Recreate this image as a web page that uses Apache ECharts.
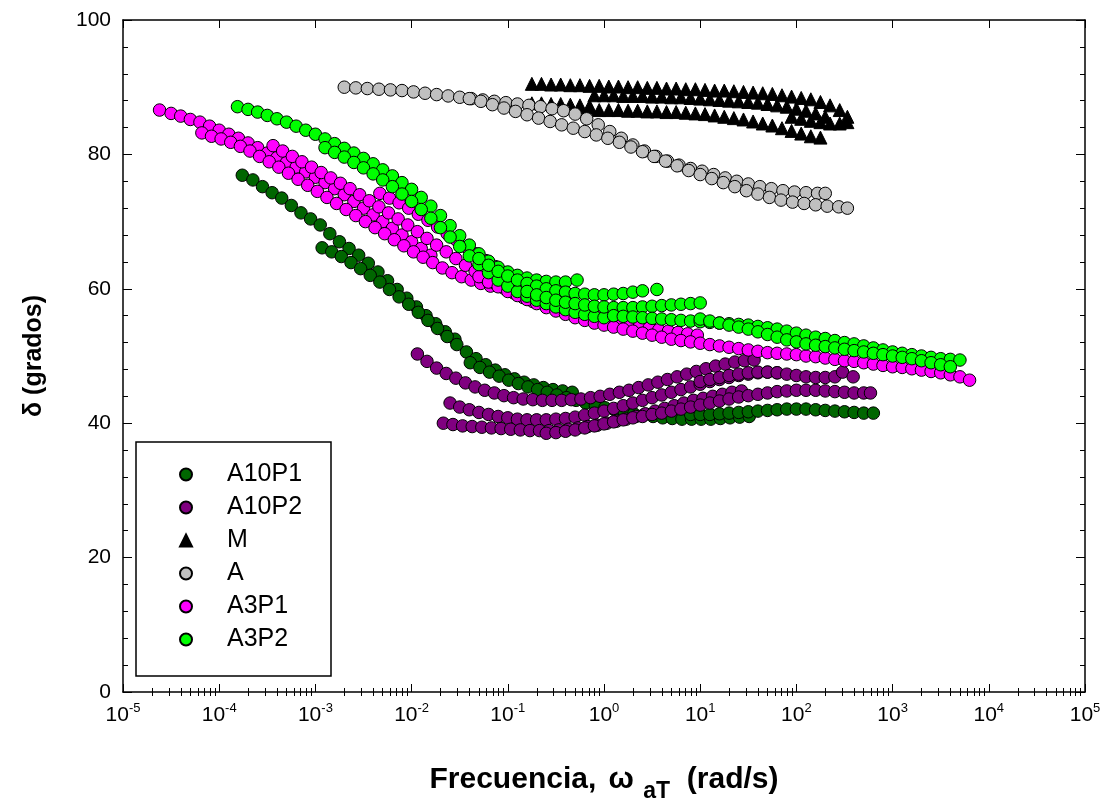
<!DOCTYPE html>
<html>
<head>
<meta charset="utf-8">
<script src="https://cdn.jsdelivr.net/npm/echarts@6.0.0/dist/echarts.min.js"></script>
<style>
html,body{margin:0;padding:0;background:#fff;}
#chart{width:1107px;height:800px;}
</style>
</head>
<body>
<div id="chart"></div>
<script>
// Data: each point is [log10(frequency ω·aT in rad/s), δ in degrees]
// Several overlapping sweeps (tracks) per sample.
const seriesNames = ['A10P1', 'A10P2', 'M', 'A', 'A3P1', 'A3P2'];
const xTickExponents = [-5, -4, -3, -2, -1, 0, 1, 2, 3, 4, 5];
const yTickLabels = [0, 20, 40, 60, 80, 100];

const a10p1_t1 = [[-3.76,76.9],[-3.65,76.2],[-3.55,75.2],[-3.45,74.3],[-3.35,73.5],[-3.25,72.4],[-3.15,71.3],[-3.05,70.4],[-2.95,69.5],[-2.85,68.2],[-2.75,67.0],[-2.65,66.0],[-2.55,65.0],[-2.45,63.8],[-2.35,62.5],[-2.25,61.2],[-2.15,59.9],[-2.05,58.6],[-1.95,57.3],[-1.85,56.0],[-1.75,54.8],[-1.65,53.6],[-1.55,52.5]];
const a10p1_t2 = [[-2.93,66.1],[-2.83,65.5],[-2.73,64.8],[-2.63,63.9],[-2.53,63.0],[-2.43,62.0],[-2.33,61.0],[-2.23,59.9],[-2.13,58.8],[-2.03,57.7],[-1.93,56.5],[-1.83,55.3],[-1.73,54.1],[-1.63,52.9],[-1.53,51.7],[-1.43,50.6],[-1.33,49.6],[-1.23,48.7],[-1.13,47.9],[-1.03,47.2],[-0.93,46.6],[-0.83,46.1],[-0.73,45.7],[-0.63,45.3],[-0.53,45.0],[-0.43,44.8],[-0.33,44.6]];
const a10p1_t3 = [[-1.39,49.0],[-1.29,48.3],[-1.19,47.6],[-1.09,47.0],[-0.99,46.4],[-0.89,45.9],[-0.79,45.4],[-0.69,45.0],[-0.59,44.6],[-0.49,44.2],[-0.39,43.8],[-0.29,43.4],[-0.19,43.0],[-0.09,42.6],[0.01,42.3],[0.11,42.0],[0.21,41.7],[0.31,41.4],[0.41,41.2],[0.51,41.0],[0.61,40.8],[0.71,40.7],[0.81,40.6],[0.91,40.6],[1.01,40.6],[1.11,40.6],[1.21,40.7],[1.31,40.8],[1.41,40.9],[1.51,41.0]];
const a10p1_t4 = [[0.9,41.3],[1.0,41.3],[1.1,41.3],[1.2,41.4],[1.3,41.5],[1.4,41.6],[1.5,41.7],[1.6,41.8],[1.7,41.9],[1.8,42.0],[1.9,42.1],[2.0,42.1],[2.1,42.1],[2.2,42.0],[2.3,41.9],[2.4,41.8],[2.5,41.7],[2.6,41.6],[2.7,41.5],[2.8,41.5]];

const a10p2_t1 = [[-1.94,50.3],[-1.84,49.2],[-1.74,48.2],[-1.64,47.4],[-1.54,46.7],[-1.44,46.0],[-1.34,45.4],[-1.24,44.9],[-1.14,44.5],[-1.04,44.1],[-0.94,43.8],[-0.84,43.6],[-0.74,43.5],[-0.64,43.4],[-0.54,43.4],[-0.44,43.4],[-0.34,43.5],[-0.24,43.6],[-0.14,43.8],[-0.04,44.0],[0.06,44.3],[0.16,44.6],[0.26,44.9],[0.36,45.3],[0.46,45.7],[0.56,46.1],[0.66,46.5],[0.76,46.9],[0.86,47.3],[0.96,47.7],[1.06,48.1],[1.16,48.5],[1.26,48.8],[1.36,49.1],[1.46,49.3],[1.56,49.4]];
const a10p2_t2 = [[-1.6,43.0],[-1.5,42.4],[-1.4,42.0],[-1.3,41.6],[-1.2,41.3],[-1.1,41.0],[-1.0,40.8],[-0.9,40.6],[-0.8,40.5],[-0.7,40.5],[-0.6,40.5],[-0.5,40.6],[-0.4,40.7],[-0.3,40.9],[-0.2,41.2],[-0.1,41.5],[0.0,41.8],[0.1,42.2],[0.2,42.6],[0.3,43.0],[0.4,43.4],[0.5,43.8],[0.6,44.2],[0.7,44.6],[0.8,45.0],[0.9,45.4],[1.0,45.8],[1.1,46.2],[1.2,46.5],[1.3,46.8],[1.4,47.1],[1.5,47.3],[1.6,47.5],[1.7,47.6],[1.8,47.5]];
const a10p2_t3 = [[-1.67,40.0],[-1.57,39.8],[-1.47,39.6],[-1.37,39.5],[-1.27,39.4],[-1.17,39.3],[-1.07,39.2],[-0.97,39.1],[-0.87,39.0],[-0.77,38.9],[-0.67,38.9],[-0.57,38.9],[-0.47,39.0],[-0.37,39.1],[-0.27,39.3],[-0.17,39.5],[-0.07,39.7],[0.03,40.0],[0.13,40.3],[0.23,40.6],[0.33,41.0],[0.43,41.4],[0.53,41.8],[0.63,42.2],[0.73,42.6],[0.83,43.0],[0.93,43.4],[1.03,43.7],[1.13,44.0],[1.23,44.3],[1.33,44.6],[1.43,44.8]];
const a10p2_t4 = [[-0.6,38.5],[-0.5,38.6],[-0.4,38.8],[-0.3,39.0],[-0.2,39.3],[-0.1,39.6],[0.0,39.9],[0.1,40.2],[0.2,40.5],[0.3,40.8],[0.4,41.0],[0.5,41.3],[0.6,41.5],[0.7,41.8],[0.8,42.1],[0.9,42.4],[1.0,42.7],[1.1,43.0],[1.2,43.3],[1.3,43.6],[1.4,43.9],[1.5,44.1],[1.6,44.3],[1.7,44.5],[1.8,44.7],[1.9,44.8],[2.0,44.9],[2.1,44.9],[2.2,44.9],[2.3,44.8],[2.4,44.7],[2.5,44.6],[2.6,44.5],[2.7,44.5],[2.77,44.5]];
const a10p2_t5 = [[1.0,46.2],[1.1,46.5],[1.2,46.8],[1.3,47.1],[1.4,47.3],[1.5,47.5],[1.6,47.6],[1.7,47.6],[1.8,47.5],[1.9,47.3],[2.0,47.1],[2.1,46.9],[2.2,46.8],[2.3,46.8],[2.4,46.9],[2.48,47.6],[2.59,46.9]];

const m_t1 = [[-0.75,90.5],[-0.65,90.5],[-0.55,90.4],[-0.45,90.4],[-0.35,90.3],[-0.25,90.3],[-0.15,90.2],[-0.05,90.2],[0.05,90.1],[0.15,90.1],[0.25,90.0],[0.35,90.0],[0.45,89.9],[0.55,89.9],[0.65,89.8],[0.75,89.8],[0.85,89.7],[0.95,89.7],[1.05,89.6],[1.15,89.5],[1.25,89.5],[1.35,89.4],[1.45,89.3],[1.55,89.2],[1.65,89.1],[1.75,89.0],[1.85,88.8],[1.95,88.6],[2.05,88.4],[2.15,88.2],[2.25,87.8],[2.35,87.3],[2.45,86.6],[2.53,85.6]];
const m_t2 = [[-0.75,87.6],[-0.65,87.6],[-0.55,87.5],[-0.45,87.5],[-0.35,87.4],[-0.25,87.3],[-0.15,87.2]];
const m_t3 = [[-0.1,88.8],[0.0,88.8],[0.1,88.8],[0.2,88.7],[0.3,88.7],[0.4,88.7],[0.5,88.6],[0.6,88.6],[0.7,88.5],[0.8,88.5],[0.9,88.4],[1.0,88.3],[1.1,88.2],[1.2,88.1],[1.3,88.0],[1.4,87.9],[1.5,87.8],[1.6,87.7],[1.7,87.5],[1.8,87.3],[1.9,87.1],[2.0,86.8],[2.1,86.5],[2.2,86.1],[2.3,85.6]];
const m_t4 = [[-0.25,86.7],[-0.15,86.7],[-0.05,86.6],[0.05,86.6],[0.15,86.6],[0.25,86.5],[0.35,86.5],[0.45,86.4],[0.55,86.4],[0.65,86.3],[0.75,86.3],[0.85,86.2],[0.95,86.1],[1.05,86.0],[1.15,85.8],[1.25,85.6],[1.35,85.4],[1.45,85.2],[1.55,84.9],[1.65,84.6],[1.75,84.3],[1.85,83.9],[1.95,83.5],[2.05,83.1],[2.15,82.7],[2.25,82.5]];
const m_t5 = [[1.95,85.6],[2.05,85.3],[2.15,85.0],[2.25,84.8],[2.35,84.6],[2.45,84.6],[2.53,84.8]];

const a_t1 = [[-2.7,90.0],[-2.58,89.9],[-2.46,89.8],[-2.34,89.7],[-2.22,89.6],[-2.1,89.5],[-1.98,89.3],[-1.86,89.1],[-1.74,88.9],[-1.62,88.7],[-1.5,88.5],[-1.38,88.3],[-1.26,88.1],[-1.14,87.9],[-1.02,87.7],[-0.9,87.5],[-0.78,87.3],[-0.66,87.1],[-0.54,86.8],[-0.42,86.5],[-0.3,86.0],[-0.18,85.3],[-0.06,84.4],[0.06,83.4],[0.18,82.4],[0.3,81.4],[0.42,80.5],[0.54,79.7],[0.66,79.0],[0.78,78.4],[0.9,77.9],[1.02,77.5],[1.14,77.0],[1.26,76.5],[1.38,76.0],[1.5,75.6],[1.62,75.2],[1.74,74.9],[1.86,74.6],[1.98,74.4],[2.1,74.3],[2.22,74.2],[2.3,74.2]];
const a_t2 = [[-1.4,88.3],[-1.28,87.9],[-1.16,87.4],[-1.04,86.9],[-0.92,86.4],[-0.8,85.9],[-0.68,85.4],[-0.56,84.9],[-0.44,84.4],[-0.32,83.9],[-0.2,83.4],[-0.08,82.9],[0.04,82.4],[0.16,81.8],[0.28,81.1],[0.4,80.4],[0.52,79.7],[0.64,79.0],[0.76,78.3],[0.88,77.6],[1.0,77.0],[1.12,76.4],[1.24,75.8],[1.36,75.2],[1.48,74.6],[1.6,74.1],[1.72,73.6],[1.84,73.2],[1.96,72.9],[2.08,72.7],[2.2,72.5],[2.32,72.3],[2.44,72.2],[2.53,72.0]];

const a3p1_t1 = [[-4.62,86.6],[-4.5,86.1],[-4.4,85.7],[-4.3,85.2],[-4.2,84.8],[-4.1,84.2],[-4.0,83.6],[-3.9,83.0],[-3.8,82.4],[-3.7,81.7],[-3.6,81.0],[-3.5,80.2],[-3.4,79.5],[-3.3,78.8],[-3.2,78.1],[-3.1,77.4],[-3.0,76.6],[-2.9,75.8],[-2.8,74.9],[-2.7,74.0],[-2.6,73.0],[-2.5,72.0],[-2.4,71.0],[-2.3,70.0],[-2.2,69.0],[-2.1,68.0],[-2.0,67.0],[-1.9,66.0],[-1.8,65.0]];
const a3p1_t2 = [[-4.18,83.2],[-4.08,82.7],[-3.98,82.3],[-3.88,81.8],[-3.78,81.2],[-3.68,80.5],[-3.58,79.7],[-3.48,78.9],[-3.38,78.1],[-3.28,77.2],[-3.18,76.3],[-3.08,75.4],[-2.98,74.5],[-2.88,73.6],[-2.78,72.7],[-2.68,71.8],[-2.58,70.9],[-2.48,70.0],[-2.38,69.1],[-2.28,68.2],[-2.18,67.3],[-2.08,66.4],[-1.98,65.5],[-1.88,64.7],[-1.78,63.9],[-1.68,63.1],[-1.58,62.4],[-1.48,61.8],[-1.38,61.3],[-1.28,60.8],[-1.18,60.4]];
const a3p1_t3 = [[-3.44,81.3],[-3.34,80.5],[-3.24,79.7],[-3.14,78.9],[-3.04,78.1],[-2.94,77.3],[-2.84,76.5],[-2.74,75.7],[-2.64,74.9],[-2.54,74.0],[-2.44,73.1],[-2.34,72.2],[-2.24,71.3],[-2.14,70.4],[-2.04,69.5],[-1.94,68.5],[-1.84,67.5],[-1.74,66.5],[-1.64,65.5],[-1.54,64.5],[-1.44,63.5],[-1.34,62.6],[-1.24,61.7],[-1.14,60.9],[-1.04,60.1],[-0.94,59.4],[-0.84,58.7],[-0.74,58.1]];
const a3p1_t4 = [[-2.33,74.2],[-2.23,73.5],[-2.13,72.8],[-2.03,72.0],[-1.93,71.1],[-1.83,70.2],[-1.73,69.2],[-1.63,68.2],[-1.53,67.2],[-1.43,66.2],[-1.33,65.2],[-1.23,64.2],[-1.13,63.3],[-1.03,62.4],[-0.93,61.5],[-0.83,60.7],[-0.73,59.9],[-0.63,59.2],[-0.53,58.5],[-0.43,57.9],[-0.33,57.3],[-0.23,56.8],[-0.13,56.3],[-0.03,55.9],[0.07,55.5],[0.17,55.1],[0.27,54.8],[0.37,54.5],[0.47,54.2],[0.57,53.9],[0.67,53.7],[0.77,53.5],[0.87,53.3],[0.97,53.1]];
const a3p1_t5 = [[-1.3,61.8],[-1.2,61.0],[-1.1,60.3],[-1.0,59.6],[-0.9,59.0],[-0.8,58.4],[-0.7,57.8],[-0.6,57.2],[-0.5,56.7],[-0.4,56.2],[-0.3,55.7],[-0.2,55.3],[-0.1,54.9],[0.0,54.6],[0.1,54.3],[0.2,54.0],[0.3,53.7],[0.4,53.4],[0.5,53.1],[0.6,52.8],[0.7,52.5],[0.8,52.3],[0.9,52.1],[1.0,51.9],[1.1,51.7],[1.2,51.5],[1.3,51.3],[1.4,51.1],[1.5,50.9],[1.6,50.7],[1.7,50.5],[1.8,50.4],[1.9,50.3],[2.0,50.2],[2.1,50.0],[2.2,49.9],[2.3,49.7],[2.4,49.5],[2.5,49.3],[2.6,49.2],[2.7,49.0],[2.8,48.8],[2.9,48.6],[3.0,48.4],[3.1,48.3],[3.2,48.1],[3.3,47.9],[3.4,47.7],[3.5,47.5],[3.6,47.2],[3.7,46.9],[3.8,46.4]];

const a3p2_t1 = [[-3.81,87.1],[-3.7,86.7],[-3.6,86.3],[-3.5,85.8],[-3.4,85.3],[-3.3,84.8],[-3.2,84.2],[-3.1,83.6],[-3.0,83.0],[-2.9,82.3],[-2.8,81.6],[-2.7,80.9],[-2.6,80.2],[-2.5,79.4],[-2.4,78.6],[-2.3,77.7],[-2.2,76.8],[-2.1,75.8],[-2.0,74.8],[-1.9,73.6],[-1.8,72.3],[-1.7,70.9],[-1.6,69.4],[-1.5,67.9],[-1.4,66.5],[-1.3,65.2],[-1.2,64.1],[-1.1,63.2],[-1.0,62.5],[-0.9,62.0],[-0.8,61.6],[-0.7,61.3],[-0.6,61.1],[-0.5,61.0],[-0.4,61.0],[-0.28,61.3]];
const a3p2_t2 = [[-2.9,81.0],[-2.8,80.3],[-2.7,79.6],[-2.6,78.8],[-2.5,78.0],[-2.4,77.1],[-2.3,76.2],[-2.2,75.2],[-2.1,74.1],[-2.0,73.0],[-1.9,71.8],[-1.8,70.5],[-1.7,69.1],[-1.6,67.7],[-1.5,66.3],[-1.4,64.9],[-1.3,63.6],[-1.2,62.4],[-1.1,61.3],[-1.0,60.4],[-0.9,59.6],[-0.8,58.9],[-0.7,58.3],[-0.6,57.8],[-0.5,57.3],[-0.4,56.9],[-0.3,56.5],[-0.2,56.2],[-0.1,55.9],[0.0,55.7]];
const a3p2_t3 = [[-1.3,64.5],[-1.2,63.5],[-1.1,62.6],[-1.0,61.9],[-0.9,61.3],[-0.8,60.8],[-0.7,60.4],[-0.6,60.0],[-0.5,59.7],[-0.4,59.5],[-0.3,59.3],[-0.2,59.2],[-0.1,59.1],[0.0,59.1],[0.1,59.2],[0.2,59.3],[0.3,59.5],[0.4,59.7],[0.55,59.9]];
const a3p2_t4 = [[-0.8,59.6],[-0.7,59.1],[-0.6,58.7],[-0.5,58.3],[-0.4,58.0],[-0.3,57.8],[-0.2,57.6],[-0.1,57.4],[0.0,57.3],[0.1,57.2],[0.2,57.2],[0.3,57.2],[0.4,57.3],[0.5,57.4],[0.6,57.5],[0.7,57.6],[0.8,57.7],[0.9,57.8],[1.0,57.9]];
const a3p2_t5 = [[0.1,56.0],[0.2,55.9],[0.3,55.8],[0.4,55.7],[0.5,55.6],[0.6,55.5],[0.7,55.4],[0.8,55.3],[0.9,55.2],[1.0,55.1],[1.1,55.0],[1.2,54.9],[1.3,54.8],[1.4,54.7],[1.5,54.6],[1.6,54.4],[1.7,54.2],[1.8,54.0],[1.9,53.7],[2.0,53.4],[2.1,53.1],[2.2,52.8],[2.3,52.6],[2.4,52.3],[2.5,52.0],[2.6,51.8],[2.7,51.5],[2.8,51.2],[2.9,50.9],[3.0,50.6],[3.1,50.4],[3.2,50.2],[3.3,50.0],[3.4,49.8],[3.5,49.6],[3.6,49.5],[3.7,49.4]];
const a3p2_t6 = [[1.0,55.5],[1.1,55.2],[1.2,54.9],[1.3,54.6],[1.4,54.3],[1.5,54.0],[1.6,53.6],[1.7,53.2],[1.8,52.8],[1.9,52.4],[2.0,52.1],[2.1,51.8],[2.2,51.6],[2.3,51.4],[2.4,51.2],[2.5,51.0],[2.6,50.8],[2.7,50.6],[2.8,50.4],[2.9,50.2],[3.0,50.0],[3.1,49.8],[3.2,49.6],[3.3,49.3],[3.4,49.0],[3.5,48.7],[3.6,48.4]];

const seriesColors = {A10P1:'#006600', A10P2:'#800080', M:'#000000', A:'#c0c0c0', A3P1:'#ff00ff', A3P2:'#00ff00'};
const seriesSymbols = {A10P1:'circle', A10P2:'circle', M:'triangle', A:'circle', A3P1:'circle', A3P2:'circle'};
const tracks = {
  A10P1: [a10p1_t1, a10p1_t2, a10p1_t3, a10p1_t4],
  A10P2: [a10p2_t1, a10p2_t2, a10p2_t3, a10p2_t4, a10p2_t5],
  M: [m_t1, m_t2, m_t3, m_t4, m_t5],
  A: [a_t1, a_t2],
  A3P1: [a3p1_t1, a3p1_t2, a3p1_t3, a3p1_t4, a3p1_t5],
  A3P2: [a3p2_t1, a3p2_t2, a3p2_t3, a3p2_t4, a3p2_t5, a3p2_t6]
};

const FONT = '"Liberation Sans", Arial, sans-serif';
const minorX = [];
for (let n = -5; n < 5; n++) for (let k = 2; k <= 9; k++) minorX.push(n + Math.log10(k));

const series = [];
seriesNames.forEach(name => {
  tracks[name].forEach(data => {
    series.push({
      type: 'scatter', name: name, data: data,
      symbol: seriesSymbols[name],
      symbolSize: name === 'M' ? 13 : 12.5,
      itemStyle: {color: seriesColors[name], borderColor: '#000', borderWidth: 1, opacity: 1},
      emphasis: {disabled: true}, silent: true, animation: false
    });
  });
});

const axisLineStyle = {color: '#000', width: 1.5};
const chart = echarts.init(document.getElementById('chart'), null, {renderer: 'canvas'});
chart.setOption({
  animation: false,
  backgroundColor: '#fff',
  grid: {left: 123, right: 22, top: 20, bottom: 108, containLabel: false, outerBoundsMode: 'none'},
  xAxis: [
    {type: 'value', min: -5, max: 5, interval: 1, position: 'bottom',
     axisLine: {show: true, onZero: false, lineStyle: axisLineStyle},
     axisTick: {show: true, inside: true, length: 8, lineStyle: {color: '#000', width: 1}},
     splitLine: {show: false},
     axisLabel: {margin: 10, color: '#000', showMinLabel: true, showMaxLabel: true,
       formatter: v => '{b|10}{e|' + v + '}',
       rich: {b: {fontFamily: FONT, fontSize: 21, color: '#000', lineHeight: 26},
              e: {fontFamily: FONT, fontSize: 13, color: '#000', lineHeight: 14, verticalAlign: 'top'}}},
     name: '{t|Frecuencia, }{w|ω}{s| aT}{t|  (rad/s)}',
     nameLocation: 'middle', nameGap: 70,
     nameTextStyle: {color: '#000', rich: {
       t: {fontFamily: FONT, fontWeight: 'bold', fontSize: 30, color: '#000', lineHeight: 36},
       w: {fontFamily: FONT, fontWeight: 'bold', fontSize: 30, color: '#000', lineHeight: 36, padding: [0, 3, 0, 4]},
       s: {fontFamily: FONT, fontWeight: 'bold', fontSize: 23, color: '#000', lineHeight: 22, verticalAlign: 'bottom', padding: [0, 0, -5, 0]}}}
    },
    {type: 'value', min: -5, max: 5, position: 'bottom',
     axisLine: {show: false}, splitLine: {show: false}, axisLabel: {show: false},
     axisTick: {show: true, inside: true, length: 4, customValues: minorX, lineStyle: {color: '#000', width: 1}}},
    {type: 'value', min: -5, max: 5, interval: 1, position: 'top',
     axisLine: {show: true, onZero: false, lineStyle: axisLineStyle},
     axisTick: {show: true, inside: true, length: 8, lineStyle: {color: '#000', width: 1}},
     splitLine: {show: false}, axisLabel: {show: false}},
    {type: 'value', min: -5, max: 5, position: 'top',
     axisLine: {show: false}, splitLine: {show: false}, axisLabel: {show: false},
     axisTick: {show: true, inside: true, length: 4, customValues: minorX, lineStyle: {color: '#000', width: 1}}}
  ],
  yAxis: [
    {type: 'value', min: 0, max: 100, interval: 20, position: 'left',
     axisLine: {show: true, onZero: false, lineStyle: axisLineStyle},
     axisTick: {show: true, inside: true, length: 9, lineStyle: {color: '#000', width: 1}},
     minorTick: {show: true, splitNumber: 5, length: 5, lineStyle: {color: '#000', width: 1}},
     splitLine: {show: false}, minorSplitLine: {show: false},
     axisLabel: {margin: 12, color: '#000', fontFamily: FONT, fontSize: 21,
       formatter: v => (yTickLabels.indexOf(v) >= 0 ? String(v) : '')},
     name: 'δ (grados)', nameLocation: 'middle', nameGap: 76,
     nameTextStyle: {fontFamily: FONT, fontWeight: 'bold', fontSize: 25, color: '#000'}},
    {type: 'value', min: 0, max: 100, interval: 20, position: 'right',
     axisLine: {show: true, onZero: false, lineStyle: axisLineStyle},
     axisTick: {show: true, inside: true, length: 9, lineStyle: {color: '#000', width: 1}},
     minorTick: {show: true, splitNumber: 5, length: 5, lineStyle: {color: '#000', width: 1}},
     splitLine: {show: false}, axisLabel: {show: false}}
  ],
  legend: {
    orient: 'vertical', left: 174, top: 457, z: 10,
    itemWidth: 12, itemHeight: 12, itemGap: 8,
    selectedMode: false,
    data: seriesNames.map(n => ({name: n, icon: seriesSymbols[n]})),
    textStyle: {fontFamily: FONT, fontSize: 25, color: '#000', lineHeight: 20, padding: [0, 0, 0, 30]}
  },
  graphic: [{type: 'rect', z: 5, shape: {x: 136, y: 442, width: 195, height: 234},
             style: {fill: '#fff', stroke: '#000', lineWidth: 1.5}}],
  series: series
});
</script>
</body>
</html>
